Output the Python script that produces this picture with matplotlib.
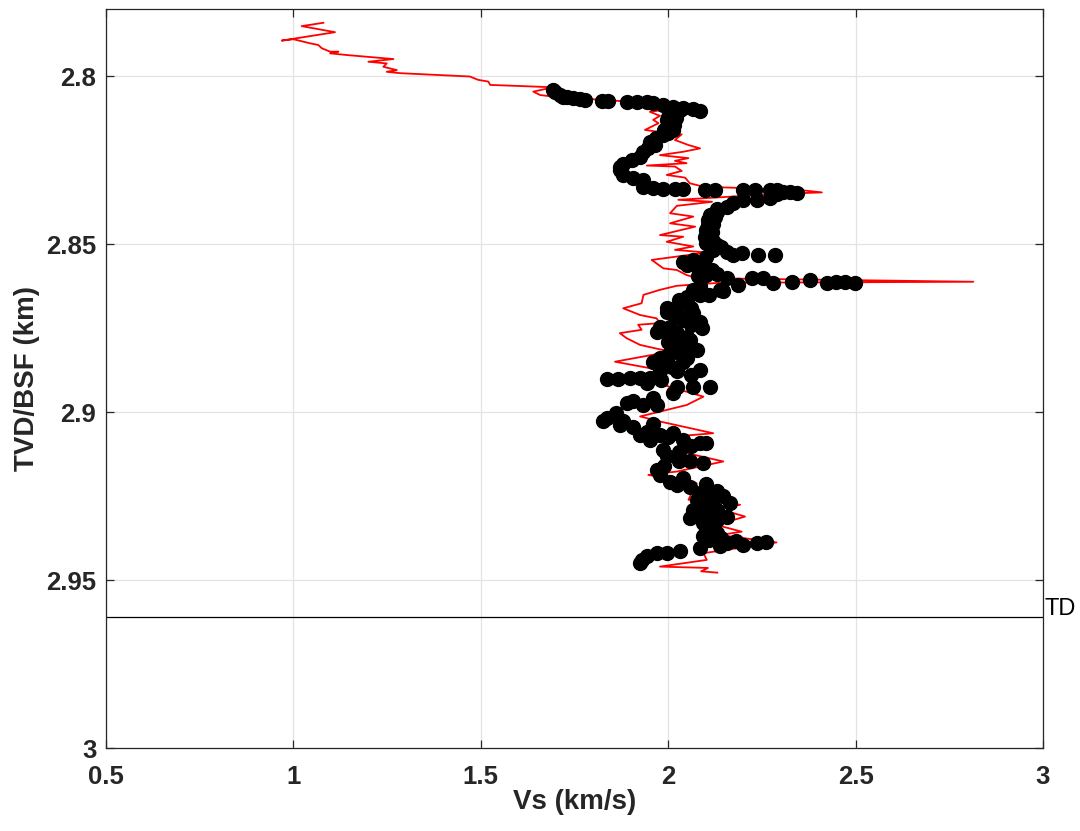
import matplotlib
matplotlib.use("Agg")
import matplotlib.pyplot as plt

# ---- data ----
red_vs = [1.080, 1.022, 1.111, 0.969, 1.000, 1.044, 1.066, 1.076, 1.098, 1.120,
          1.098, 1.142, 1.267, 1.200, 1.249, 1.240, 1.276, 1.249, 1.284, 1.471,
          1.493, 1.520, 1.525, 1.693, 1.640, 1.658, 1.693, 1.791, 1.871, 1.934,
          1.983, 1.951, 1.978, 1.960, 1.974, 1.938, 1.969, 2.009, 2.036, 2.018,
          2.054, 2.085, 2.040, 1.978, 2.054, 2.018, 2.049, 1.943, 2.018, 2.036,
          1.996, 2.045, 2.058, 2.094, 2.352, 2.410, 2.280, 2.027, 2.117, 2.023,
          2.005, 2.067, 2.005, 2.072, 1.978, 2.040, 1.996, 2.067, 2.018, 2.103,
          1.956, 1.987, 2.023, 2.049, 2.076, 2.814, 2.138, 2.023, 1.978, 1.934,
          1.929, 1.880, 1.925, 1.969, 1.978, 1.920, 1.929, 1.871, 1.889, 1.925,
          2.005, 1.858, 1.974, 1.925, 1.987, 2.094, 2.049, 1.925, 1.978, 2.120,
          2.014, 2.103, 2.049, 2.147, 2.023, 1.947, 2.023, 2.076, 2.054, 2.192,
          2.129, 2.205, 2.129, 2.196, 2.138, 2.289, 2.094, 2.103, 1.978, 2.106,
          2.088, 2.131]
red_depth = [2.7841, 2.7851, 2.7869, 2.7894, 2.7890, 2.7902, 2.7907, 2.7917, 2.7927, 2.7927,
             2.7932, 2.7937, 2.7949, 2.7957, 2.7962, 2.7972, 2.7982, 2.7987, 2.7991, 2.8001,
             2.8011, 2.8016, 2.8026, 2.8033, 2.8046, 2.8056, 2.8061, 2.8068, 2.8074, 2.8086,
             2.8101, 2.8106, 2.8118, 2.8130, 2.8140, 2.8160, 2.8165, 2.8175, 2.8173, 2.8190,
             2.8205, 2.8215, 2.8225, 2.8235, 2.8244, 2.8252, 2.8259, 2.8266, 2.8269, 2.8282,
             2.8294, 2.8302, 2.8319, 2.8329, 2.8339, 2.8346, 2.8351, 2.8368, 2.8374, 2.8386,
             2.8408, 2.8418, 2.8438, 2.8448, 2.8473, 2.8478, 2.8493, 2.8507, 2.8517, 2.8525,
             2.8547, 2.8572, 2.8577, 2.8592, 2.8601, 2.8612, 2.8615, 2.8624, 2.8636, 2.8651,
             2.8676, 2.8691, 2.8711, 2.8721, 2.8735, 2.8740, 2.8755, 2.8765, 2.8780, 2.8800,
             2.8820, 2.8850, 2.8874, 2.8898, 2.8919, 2.8954, 2.8979, 2.9013, 2.9028, 2.9063,
             2.9073, 2.9098, 2.9122, 2.9147, 2.9177, 2.9187, 2.9202, 2.9212, 2.9261, 2.9276,
             2.9286, 2.9311, 2.9336, 2.9356, 2.9366, 2.9388, 2.9420, 2.9440, 2.9460, 2.9464,
             2.9474, 2.9478]

black_vs = [1.693, 1.698, 1.711, 1.720, 1.730, 1.747, 1.765, 1.778, 1.823, 1.840,
            1.889, 1.916, 1.943, 1.960, 1.987, 2.014, 2.040, 2.067, 2.085, 2.032,
            2.005, 2.000, 1.996, 2.005, 2.009, 2.014, 2.000, 1.987, 1.967, 1.951,
            1.965, 1.946, 1.934, 1.925, 1.904, 1.880, 1.872, 1.872, 1.880, 1.907,
            1.934, 1.934, 1.960, 1.987, 2.018, 2.040, 2.098, 2.125, 2.200, 2.231,
            2.271, 2.289, 2.307, 2.325, 2.343, 2.289, 2.271, 2.236, 2.200, 2.173,
            2.156, 2.129, 2.111, 2.106, 2.106, 2.102, 2.098, 2.102, 2.129, 2.120,
            2.156, 2.173, 2.196, 2.240, 2.285, 2.102, 2.067, 2.040, 2.049, 2.085,
            2.116, 2.102, 2.156, 2.187, 2.223, 2.254, 2.280, 2.329, 2.378, 2.423,
            2.449, 2.472, 2.498, 2.138, 2.085, 2.067, 2.147, 2.085, 2.049, 2.049,
            2.032, 1.996, 1.996, 2.014, 2.067, 2.040, 2.085, 1.978, 2.005, 1.969,
            2.023, 2.058, 2.032, 2.076, 2.023, 1.978, 1.960, 1.996, 2.040, 2.085,
            2.023, 1.978, 1.951, 1.925, 1.898, 1.866, 1.836, 1.943, 2.023, 2.067,
            2.111, 2.014, 1.960, 1.907, 1.889, 1.934, 1.969, 1.862, 1.836, 1.827,
            1.872, 1.880, 1.907, 1.943, 1.925, 1.951, 1.978, 2.014, 2.040, 2.085,
            2.102, 1.987, 1.996, 2.058, 2.094, 1.969, 1.978, 2.005, 2.023, 2.058,
            2.085, 2.076, 2.111, 2.147, 2.165, 2.102, 2.067, 2.102, 2.156, 2.058,
            2.094, 2.129, 2.094, 2.156, 2.200, 2.236, 2.262, 2.138, 2.085, 2.032,
            1.996, 1.969, 1.943, 1.929, 1.925,
            2.020, 2.015, 1.990, 2.130, 2.125, 2.120, 2.118, 2.120, 2.140, 2.060,
            2.090, 2.130, 2.080, 2.110, 2.030, 2.060, 2.030, 2.060, 2.090, 2.000,
            2.050, 2.000, 2.060, 2.000, 2.050, 2.010, 2.060, 1.980, 1.960, 2.000,
            2.060, 2.030, 2.030, 1.990, 2.040, 2.100, 2.130, 2.120, 2.090, 2.130,
            2.080, 2.130, 2.120, 2.100, 2.140, 2.180, 2.110]
black_depth = [2.8041, 2.8046, 2.8056, 2.8061, 2.8062, 2.8066, 2.8068, 2.8070, 2.8073, 2.8073,
               2.8078, 2.8078, 2.8078, 2.8081, 2.8086, 2.8091, 2.8096, 2.8099, 2.8103, 2.8101,
               2.8111, 2.8122, 2.8131, 2.8140, 2.8150, 2.8160, 2.8169, 2.8175, 2.8184, 2.8195,
               2.8205, 2.8214, 2.8225, 2.8240, 2.8250, 2.8260, 2.8271, 2.8279, 2.8294, 2.8304,
               2.8309, 2.8329, 2.8334, 2.8336, 2.8336, 2.8336, 2.8339, 2.8339, 2.8339, 2.8339,
               2.8340, 2.8339, 2.8344, 2.8344, 2.8347, 2.8351, 2.8364, 2.8369, 2.8369, 2.8379,
               2.8389, 2.8404, 2.8413, 2.8428, 2.8443, 2.8458, 2.8478, 2.8498, 2.8503, 2.8518,
               2.8523, 2.8532, 2.8527, 2.8532, 2.8532, 2.8537, 2.8547, 2.8552, 2.8562, 2.8567,
               2.8577, 2.8592, 2.8602, 2.8622, 2.8602, 2.8602, 2.8617, 2.8612, 2.8607, 2.8617,
               2.8612, 2.8612, 2.8615, 2.8636, 2.8626, 2.8636, 2.8641, 2.8651, 2.8656, 2.8666,
               2.8676, 2.8691, 2.8702, 2.8706, 2.8706, 2.8726, 2.8731, 2.8746, 2.8747, 2.8761,
               2.8766, 2.8786, 2.8800, 2.8815, 2.8820, 2.8840, 2.8850, 2.8850, 2.8850, 2.8874,
               2.8879, 2.8879, 2.8899, 2.8899, 2.8899, 2.8900, 2.8902, 2.8914, 2.8924, 2.8924,
               2.8924, 2.8944, 2.8958, 2.8968, 2.8973, 2.8978, 2.8978, 2.9003, 2.9018, 2.9028,
               2.9038, 2.9028, 2.9043, 2.9058, 2.9068, 2.9083, 2.9068, 2.9063, 2.9083, 2.9093,
               2.9093, 2.9112, 2.9132, 2.9147, 2.9152, 2.9172, 2.9187, 2.9207, 2.9217, 2.9222,
               2.9241, 2.9261, 2.9251, 2.9251, 2.9271, 2.9271, 2.9291, 2.9306, 2.9311, 2.9316,
               2.9331, 2.9360, 2.9370, 2.9390, 2.9395, 2.9390, 2.9388, 2.9399, 2.9404, 2.9414,
               2.9419, 2.9419, 2.9429, 2.9439, 2.9449,
               2.8125, 2.8145, 2.8160, 2.8395, 2.8420, 2.8440, 2.8465, 2.8490, 2.8510, 2.8560,
               2.8575, 2.8590, 2.8595, 2.8650, 2.8665, 2.8690, 2.8715, 2.8740, 2.8750, 2.8760,
               2.8775, 2.8790, 2.8810, 2.8830, 2.8840, 2.8865, 2.8890, 2.8905, 2.9035, 2.9075,
               2.9100, 2.9120, 2.9145, 2.9160, 2.9195, 2.9215, 2.9235, 2.9260, 2.9280, 2.9290,
               2.9300, 2.9320, 2.9340, 2.9355, 2.9375, 2.9385, 2.9380]

td_depth = 2.961
td_label = "TD"
x_ticks = [0.5, 1, 1.5, 2, 2.5, 3]
x_tick_labels = ["0.5", "1", "1.5", "2", "2.5", "3"]
y_ticks = [2.8, 2.85, 2.9, 2.95, 3.0]
y_tick_labels = ["2.8", "2.85", "2.9", "2.95", "3"]
x_label = "Vs (km/s)"
y_label = "TVD/BSF (km)"

# ---- plot ----
plt.rcParams['font.family'] = ['Liberation Sans', 'DejaVu Sans']
axc = (0.15, 0.15, 0.15)

fig = plt.figure(figsize=(10.8, 8.31), dpi=100)
ax = fig.add_axes([106 / 1080, 1 - 748 / 831, 937 / 1080, 739 / 831])

ax.plot(red_vs, red_depth, color='red', lw=1.3, zorder=3)
ax.plot(black_vs, black_depth, 'o', color='black', ms=10, zorder=4)
ax.axhline(td_depth, color='black', lw=0.9, zorder=2)
ax.text(3.0 + 0.004, td_depth + 0.0008, td_label, ha='left', va='bottom',
        fontsize=17, color='black',
        family=['Liberation Sans Narrow', 'Liberation Sans', 'DejaVu Sans'],
        clip_on=False)

ax.set_xlim(0.5, 3.0)
ax.set_ylim(3.0, 2.78)
ax.set_xticks(x_ticks)
ax.set_xticklabels(x_tick_labels)
ax.set_yticks(y_ticks)
ax.set_yticklabels(y_tick_labels)

ax.grid(True, color='#e3e3e3', lw=0.9, zorder=0)
ax.set_axisbelow(True)

ax.tick_params(direction='in', length=6, width=0.9, color=axc, labelcolor=axc,
               labelsize=18.5, top=True, right=True)
ax.tick_params(axis='x', pad=12)
ax.tick_params(axis='y', pad=7)
for lab in ax.get_xticklabels() + ax.get_yticklabels():
    lab.set_fontweight('bold')
for sp in ax.spines.values():
    sp.set_color(axc)
    sp.set_linewidth(0.9)

ax.set_xlabel(x_label, fontsize=20, fontweight='bold', color=axc)
ax.set_ylabel(y_label, fontsize=20, fontweight='bold', color=axc)
ax.xaxis.set_label_coords(0.5, -0.055)
ax.yaxis.set_label_coords(-0.0705, 0.5)

fig.savefig("out.png", dpi=100)
